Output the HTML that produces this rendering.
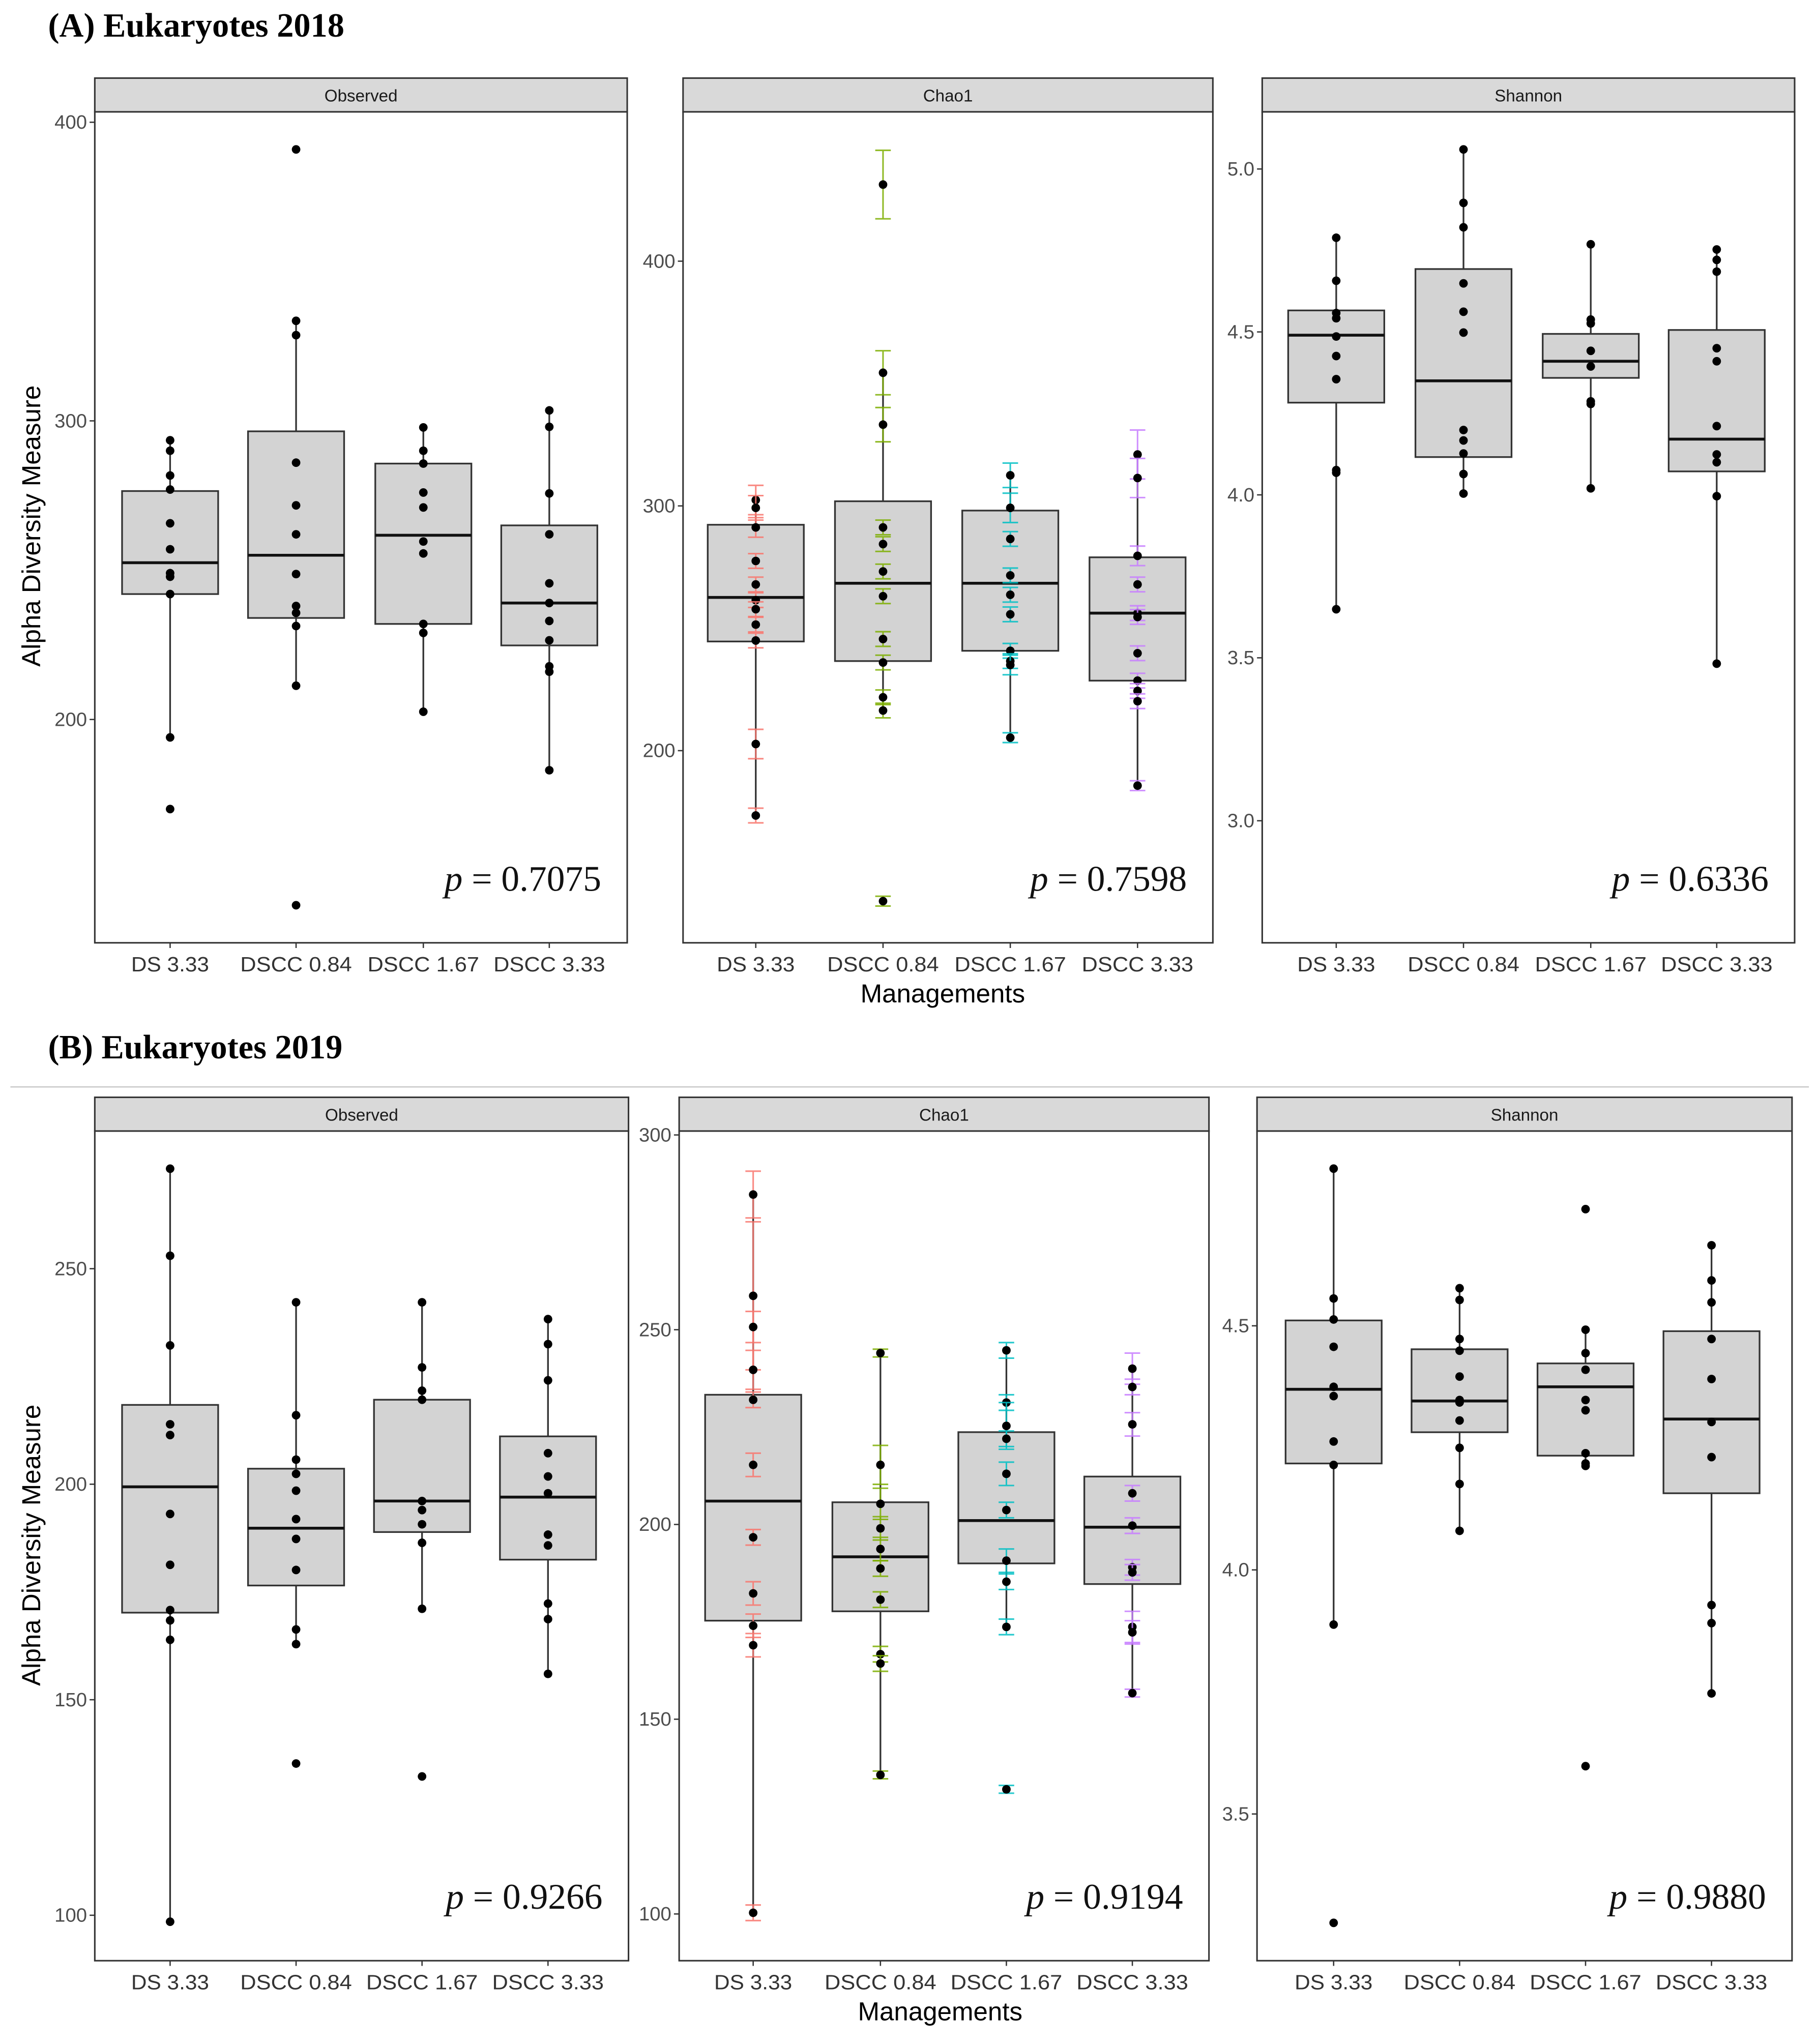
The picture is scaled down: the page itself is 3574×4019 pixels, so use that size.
<!DOCTYPE html>
<html><head><meta charset="utf-8">
<style>
html,body{margin:0;padding:0;background:#fff;}
svg{display:block;}
</style></head>
<body>
<svg id="fig" xmlns="http://www.w3.org/2000/svg" width="3574" height="4019" viewBox="0 0 1400 1574">
<rect x="0" y="0" width="1400" height="1574" fill="#fff"/>
<text x="37" y="28" font-family="Liberation Serif, serif" font-weight="bold" font-size="26">(A) Eukaryotes 2018</text>
<text x="37" y="815" font-family="Liberation Serif, serif" font-weight="bold" font-size="26">(B) Eukaryotes 2019</text>
<line x1="8" y1="837" x2="1393" y2="837" stroke="#c8c8c8" stroke-width="1"/>
<text x="726" y="772" text-anchor="middle" font-family="Liberation Sans, sans-serif" font-size="20">Managements</text>
<text x="724" y="1556" text-anchor="middle" font-family="Liberation Sans, sans-serif" font-size="20">Managements</text>
<text transform="translate(31,405) rotate(-90)" text-anchor="middle" font-family="Liberation Sans, sans-serif" font-size="20">Alpha Diversity Measure</text>
<text transform="translate(31,1190) rotate(-90)" text-anchor="middle" font-family="Liberation Sans, sans-serif" font-size="20">Alpha Diversity Measure</text>
<g id="panels"></g>
</svg>
<script>
const categories = ["DS 3.33","DSCC 0.84","DSCC 1.67","DSCC 3.33"];
const groupColors = ["#F8766D","#7CAE00","#00BFC4","#C77CFF"];

// box stats: [whiskerLow, q1, median, q3, whiskerHigh]
const aObsBox = [[194,242,252.5,276.5,293.5],[211.3,234,255,296.5,333.5],[202.6,232,261.7,285.7,297.8],[183,224.8,239,265,303.5]];
const aObsPts = [[293.5,290,281.7,277,265.7,257,249,247.8,242,194,170],[390.9,333.5,328.7,286,271.7,262,248.7,238,235.7,231.3,211.3,137.8],[297.8,290,285.7,276,271,259.6,255.6,232,229,202.6],[303.5,298,275.7,262,245.6,239,233,226.5,217.8,216,183]];
const aChaoBox = [[173.5,244.6,262.6,292.3,302.4],[216.4,236.6,268.4,301.9,354.4],[205.3,240.8,268.4,298.1,312.5],[185.7,228.6,256.2,279,321]];
const aChaoPts = [[302.4,299.2,291.2,277.5,267.9,261.5,257.8,251.5,245,202.7,173.5],[431.3,354.4,333.2,291.2,284.4,273.2,263.1,245.6,236,221.8,216.4,138.5],[312.5,299.2,286.5,271.6,263.7,255.7,240.8,236.6,235,205.3],[321,311.4,279.6,267.9,256.2,254.6,239.8,228.6,224.4,220.2,185.7]];
const aChaoErr = [[6,5,4,3,3,3,3,3,3,6,3],[14,9,7,3,3,3,3,3,3,3,3,2],[5,6,3,3,3,3,3,3,4,2],[10,8,4,3,3,3,3,3,3,3,2]];
const aShanBox = [[3.649,4.283,4.49,4.566,4.789],[4.004,4.116,4.35,4.693,5.06],[4.02,4.359,4.41,4.494,4.769],[3.482,4.072,4.171,4.506,4.753]];
const aShanPts = [[4.789,4.657,4.558,4.542,4.486,4.426,4.355,4.076,4.068,3.649],[5.06,4.896,4.821,4.649,4.562,4.498,4.199,4.167,4.127,4.064,4.004],[4.769,4.538,4.526,4.442,4.394,4.287,4.279,4.02],[4.753,4.721,4.685,4.45,4.41,4.211,4.124,4.1,3.996,3.482]];

const bObsBox = [[98.5,170.2,199.4,218.4,273.2],[162.9,176.5,189.8,203.6,242.2],[171.1,188.9,196.1,219.6,242.2],[156,182.5,197,211.1,238.3]];
const bObsPts = [[273.2,253,232.2,213.9,211.4,193.1,181.3,170.8,168.4,163.9,98.5],[242.2,216,205.7,202.4,198.5,191.9,187.3,180.1,166.3,162.9,135.2],[242.2,227.1,221.7,219.6,196.1,194,190.7,186.4,171.1,132.2],[238.3,232.5,224.1,207.2,201.8,197.9,188.3,185.8,172.3,168.7,156]];
const bChaoBox = [[100.3,175.3,206,233.3,284.7],[135.7,177.7,191.7,205.7,244],[173.7,190,201,223.7,244.7],[156.7,184.7,199.3,212.3,240]];
const bChaoPts = [[284.7,258.7,250.7,239.7,232,215.3,196.7,182.3,174,169,100.3],[244,215.3,205.3,199,193.7,188.7,180.7,166.7,164.3,135.7],[244.7,231.3,225.3,222,213,203.7,190.7,185.3,173.7,132],[240,235.3,225.7,208,199.7,189,187.7,173.7,172.3,156.7]];
const bChaoErr = [[6,19,4,5,2,3,2,3,3,3,2],[1,5,4,3,3,2,2,2,2,1],[2,2,6,2,3,2,3,2,2,1],[4,2,3,2,2,2,2,4,3,1]];
const bShanBox = [[3.888,4.218,4.37,4.511,4.822],[4.08,4.282,4.346,4.452,4.577],[4.213,4.234,4.375,4.423,4.492],[3.747,4.157,4.309,4.489,4.665]];
const bShanPts = [[4.822,4.556,4.513,4.457,4.375,4.356,4.263,4.215,3.888,3.277],[4.577,4.553,4.473,4.449,4.396,4.348,4.343,4.306,4.25,4.176,4.08],[4.739,4.492,4.444,4.41,4.348,4.327,4.239,4.218,4.213,3.598],[4.665,4.593,4.548,4.473,4.391,4.303,4.231,3.928,3.891,3.747]];

const aObsTicks = [200,300,400], aChaoTicks = [200,300,400], aShanTicks = ["3.0","3.5","4.0","4.5","5.0"];
const bObsTicks = [100,150,200,250], bChaoTicks = [100,150,200,250,300], bShanTicks = ["3.5","4.0","4.5"];
const pValues = ["0.7075","0.7598","0.6336","0.9266","0.9194","0.9880"];

const NS = "http://www.w3.org/2000/svg";
const root = document.getElementById("panels");
function mk(tag, attrs, parent){ const e=document.createElementNS(NS,tag); for(const k in attrs) e.setAttribute(k,attrs[k]); (parent||root).appendChild(e); return e; }

const panels = [
 {name:"a-observed", strip:"Observed", x0:73,x1:483,top:60,bot:726, v0:200,p0:554,v1:400,p1:94, ticks:aObsTicks, box:aObsBox, pts:aObsPts, err:null, p:pValues[0], cx:[131,228,326,423], lab:742},
 {name:"a-chao1", strip:"Chao1", x0:526,x1:934,top:60,bot:726, v0:200,p0:578,v1:400,p1:201, ticks:aChaoTicks, box:aChaoBox, pts:aChaoPts, err:aChaoErr, p:pValues[1], cx:[582,680,778,876], lab:742},
 {name:"a-shannon", strip:"Shannon", x0:972,x1:1382,top:60,bot:726, v0:3.0,p0:632,v1:5.0,p1:130, ticks:aShanTicks, box:aShanBox, pts:aShanPts, err:null, p:pValues[2], cx:[1029,1127,1225,1322], lab:742},
 {name:"b-observed", strip:"Observed", x0:73,x1:484,top:845,bot:1510, v0:100,p0:1475,v1:250,p1:977, ticks:bObsTicks, box:bObsBox, pts:bObsPts, err:null, p:pValues[3], cx:[131,228,325,422], lab:1526},
 {name:"b-chao1", strip:"Chao1", x0:523,x1:931,top:845,bot:1510, v0:100,p0:1474,v1:300,p1:874, ticks:bChaoTicks, box:bChaoBox, pts:bChaoPts, err:bChaoErr, p:pValues[4], cx:[580,678,775,872], lab:1526},
 {name:"b-shannon", strip:"Shannon", x0:968,x1:1380,top:845,bot:1510, v0:3.5,p0:1397,v1:4.5,p1:1021, ticks:bShanTicks, box:bShanBox, pts:bShanPts, err:null, p:pValues[5], cx:[1027,1124,1221,1318], lab:1526}
];

panels.forEach(P=>{
  const y = v => P.p0 + (v - P.v0) * (P.p1 - P.p0) / (P.v1 - P.v0);
  const g = mk("g",{});
  
  
  const st = mk("rect",{x:P.x0,y:P.top,width:P.x1-P.x0,height:26,fill:"#d9d9d9",stroke:"#333","stroke-width":1.2},g);
  
  
  const stt = mk("text",{x:(P.x0+P.x1)/2,y:P.top+18,"text-anchor":"middle","font-family":"Liberation Sans, sans-serif","font-size":13,fill:"#1a1a1a"},g);
  stt.textContent = P.strip;
  
  
  const fr = mk("rect",{x:P.x0,y:P.top+26,width:P.x1-P.x0,height:P.bot-P.top-26,fill:"#fff",stroke:"#333","stroke-width":1.2},g);
  
  
  P.ticks.forEach(t=>{
    const ty = y(parseFloat(t));
    mk("line",{x1:P.x0-4,x2:P.x0,y1:ty,y2:ty,stroke:"#333","stroke-width":1},g);
    const tl = mk("text",{x:P.x0-6,y:ty+5,"text-anchor":"end","font-family":"Liberation Sans, sans-serif","font-size":15,fill:"#4d4d4d"},g);
    tl.textContent = t;
    
    
  });
  categories.forEach((c,i)=>{
    const cx = P.cx[i];
    mk("line",{x1:cx,x2:cx,y1:P.bot,y2:P.bot+4,stroke:"#333","stroke-width":1},g);
    const xl = mk("text",{x:cx,y:P.lab+6,"text-anchor":"middle","font-family":"Liberation Sans, sans-serif","font-size":16,fill:"#333","textLength":c.length>8?86:60,"lengthAdjust":"spacingAndGlyphs"},g);
    xl.textContent = c;
    
    
    const b = P.box[i];
    const wl = mk("line",{x1:cx,x2:cx,y1:y(b[0]),y2:y(b[4]),stroke:"#333","stroke-width":1.3},g);
    
    
    const bx = mk("rect",{x:cx-37,y:y(b[3]),width:74,height:y(b[1])-y(b[3]),fill:"#d3d3d3",stroke:"#333","stroke-width":1.3},g);
    
    
    const md = mk("line",{x1:cx-37,x2:cx+37,y1:y(b[2]),y2:y(b[2]),stroke:"#111","stroke-width":2.2},g);
    
    
    P.pts[i].forEach((v,j)=>{
      if(P.err){
        const e = P.err[i][j];
        const eb = mk("path",{d:`M${cx-6},${y(v-e)}H${cx+6}M${cx},${y(v-e)}V${y(v+e)}M${cx-6},${y(v+e)}H${cx+6}`,stroke:groupColors[i],"stroke-width":1.2,fill:"none",opacity:0.85},g);
        
        
      }
      const pt = mk("circle",{cx:cx,cy:y(v),r:3.3,fill:"#000"},g);
      
      
    });
  });
  const pv = mk("text",{x:P.x1-20,y:P.bot-40,"text-anchor":"end","font-family":"Liberation Serif, serif","font-size":28,fill:"#111"},g);
  pv.innerHTML = '<tspan font-style="italic">p</tspan> = ' + P.p;
  
  
});
</script>
</body></html>
